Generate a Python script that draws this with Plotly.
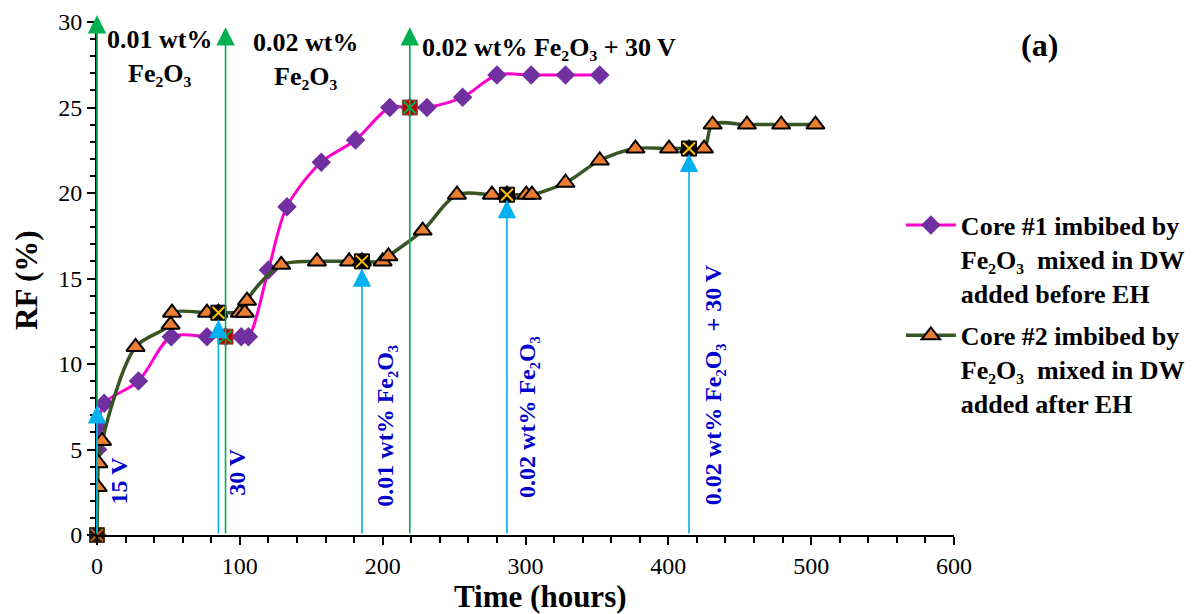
import plotly.graph_objects as go

# ---- data ----
core1_time = [0, 0.5, 1, 5, 29, 52, 77, 90, 101, 106, 120, 133, 157, 181, 205, 219, 231, 256, 280, 304, 328, 352]
core1_rf = [0, 5.0, 6.4, 7.7, 9.0, 11.6, 11.6, 11.6, 11.6, 11.6, 15.5, 19.2, 21.8, 23.1, 25.0, 25.0, 25.0, 25.6, 26.9, 26.9, 26.9, 26.9]

core2_time = [0, 0.5, 1, 3.5, 27, 51.5, 52.5, 77, 85, 100, 103.5, 105, 129, 154, 176.5, 185.5, 200, 204,
              228, 252, 276.5, 287, 300.5, 304.5, 328, 352, 377, 400.5, 414.5, 425, 431, 455, 479, 503]
core2_rf = [0, 2.8, 4.2, 5.5, 11.0, 12.3, 13.0, 13.0, 13.0, 13.0, 13.0, 13.7, 15.8, 16.0, 16.0, 16.0, 16.0, 16.3,
            17.8, 19.9, 19.9, 19.9, 19.9, 19.9, 20.6, 21.9, 22.6, 22.6, 22.6, 22.6, 24.0, 24.0, 24.0, 24.0]

core1_event_time = [90, 219]
core1_event_rf = [11.6, 25.0]
core2_event_time = [85, 185.5, 287, 414.5]
core2_event_rf = [13.0, 16.0, 19.9, 22.6]
origin_time = [0]
origin_rf = [0]

green_arrow_time = [0, 90, 219]
green_arrow_top = [30.4, 29.7, 29.7]
blue_arrow_time = [0, 85, 185.5, 287, 414.5]
blue_arrow_top = [7.6, 12.6, 15.6, 19.6, 22.3]

green_labels = ["0.01 wt%<br>Fe₂O₃", "0.02 wt%<br>Fe₂O₃", "0.02 wt% Fe₂O₃ + 30 V"]
green_label_x = [44, 146, 316.5]
green_label_y = [28.0, 27.8, 28.5]

blue_labels = ["15 V", "30 V", "0.01 wt% Fe₂O₃", "0.02 wt% Fe₂O₃", "0.02 wt% Fe₂O₃  + 30 V"]
blue_label_x = [15.5, 98, 201, 301, 431]
blue_label_y = [3.2, 3.7, 6.4, 6.9, 8.8]

legend1 = "<b>Core #1 imbibed by<br>Fe₂O₃  mixed in DW<br>added before EH</b>"
legend2 = "<b>Core #2 imbibed by<br>Fe₂O₃  mixed in DW<br>added after EH</b>"

FONT = "Times New Roman, Liberation Serif, serif"

fig = go.Figure()

fig.add_trace(go.Scatter(
    x=core1_time, y=core1_rf, name=legend1, mode="lines+markers", legendgroup="g1",
    line=dict(color="#FF00CC", width=3, shape="spline", smoothing=0.9),
    marker=dict(symbol="diamond", size=15, color="#7030A0", line=dict(width=0)),
))
fig.add_trace(go.Scatter(
    x=core2_time, y=core2_rf, name=legend2, mode="lines+markers", legendgroup="g2",
    line=dict(color="#375623", width=3.5, shape="spline", smoothing=0.9),
    marker=dict(symbol="triangle-up", size=16, color="#ED7D31", line=dict(width=2, color="black")),
))


def add_event(xs, ys, fill, cross, edge):
    fig.add_trace(go.Scatter(
        x=xs, y=ys, mode="markers", showlegend=False, cliponaxis=False, hoverinfo="skip",
        marker=dict(symbol="square", size=15, color=fill, line=dict(width=1, color=edge)),
    ))
    fig.add_trace(go.Scatter(
        x=xs, y=ys, mode="markers", showlegend=False, cliponaxis=False,
        marker=dict(symbol="x-thin", size=12, color=cross, line=dict(width=2, color=cross)),
    ))


add_event(core1_event_time, core1_event_rf, "#C00000", "#00B050", "#7a5a3a")
add_event(core2_event_time, core2_event_rf, "black", "#FFC000", "black")
add_event(origin_time, origin_rf, "#1a1a1a", "#C55A11", "#5a3a1a")

annotations = []
for xt, top in zip(green_arrow_time, green_arrow_top):
    annotations.append(dict(x=xt, y=top, ax=xt, ay=0, xref="x", yref="y", axref="x", ayref="y",
                            text="", showarrow=True, arrowhead=2, arrowsize=2.3, arrowwidth=1.6,
                            arrowcolor="#00B050"))
for xt, top in zip(blue_arrow_time, blue_arrow_top):
    annotations.append(dict(x=xt, y=top, ax=xt, ay=0, xref="x", yref="y", axref="x", ayref="y",
                            text="", showarrow=True, arrowhead=2, arrowsize=2.3, arrowwidth=1.6,
                            arrowcolor="#00B0F0"))
for t, xl, yl in zip(green_labels, green_label_x, green_label_y):
    annotations.append(dict(x=xl, y=yl, xref="x", yref="y", text="<b>" + t + "</b>", showarrow=False,
                            font=dict(family=FONT, size=26, color="black"), xanchor="center", yanchor="middle"))
for t, xl, yl in zip(blue_labels, blue_label_x, blue_label_y):
    annotations.append(dict(x=xl, y=yl, xref="x", yref="y", text="<b>" + t + "</b>", showarrow=False,
                            textangle=-90,
                            font=dict(family=FONT, size=24, color="#0000CC"), xanchor="center", yanchor="middle"))
annotations.append(dict(x=1.10, y=0.955, xref="paper", yref="paper", text="<b>(a)</b>", showarrow=False,
                        font=dict(family=FONT, size=32, color="black"), xanchor="center", yanchor="middle"))
annotations.append(dict(x=0.518, y=-0.119, xref="paper", yref="paper", text="<b>Time (hours)</b>",
                        showarrow=False, font=dict(family=FONT, size=31, color="black"),
                        xanchor="center", yanchor="middle"))
annotations.append(dict(x=-0.083, y=0.497, xref="paper", yref="paper", text="<b>RF (%)</b>", textangle=-90,
                        showarrow=False, font=dict(family=FONT, size=31, color="black"),
                        xanchor="center", yanchor="middle"))

# the page body keeps an 8 px margin, so the figure is 8 px smaller and margins compensate
fig.update_layout(
    width=1191, height=606,
    margin=dict(l=89, r=245, t=14, b=79, autoexpand=False),
    paper_bgcolor="white", plot_bgcolor="white",
    font=dict(family=FONT, color="black"),
    annotations=annotations,
    showlegend=True,
    legend=dict(x=0.938, y=0.65, xanchor="left", yanchor="top", bgcolor="rgba(0,0,0,0)",
                font=dict(family=FONT, size=26, color="black"), itemwidth=50,
                traceorder="grouped", tracegroupgap=6, valign="top"),
    xaxis=dict(range=[0, 600], dtick=100, showgrid=False, zeroline=False, automargin=False,
               showline=True, linecolor="black", linewidth=2,
               ticks="outside", ticklen=8, tickwidth=1.5, tickcolor="black",
               minor=dict(dtick=20, ticks="outside", ticklen=6, tickwidth=1.5, tickcolor="black"),
               tickfont=dict(family=FONT, size=24, color="black")),
    yaxis=dict(range=[0, 30], dtick=5, showgrid=False, zeroline=False, automargin=False,
               showline=True, linecolor="black", linewidth=2,
               ticks="outside", ticklen=8, tickwidth=1.5, tickcolor="black",
               minor=dict(dtick=1, ticks="outside", ticklen=5, tickwidth=1.5, tickcolor="black"),
               tickfont=dict(family=FONT, size=24, color="black")),
)

fig.write_html("out.html")
